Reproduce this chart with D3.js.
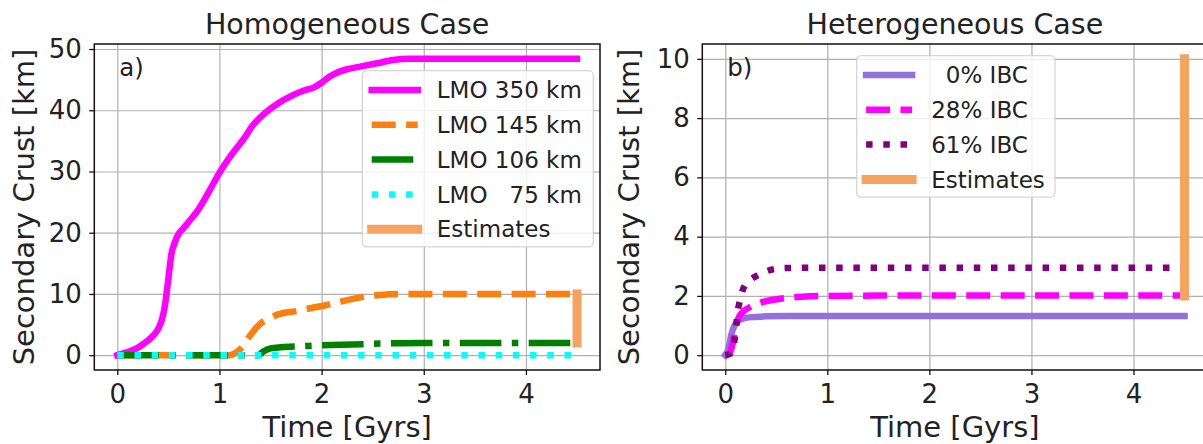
<!DOCTYPE html>
<html>
<head>
<meta charset="utf-8">
<script src="https://cdn.jsdelivr.net/npm/d3@7"></script>
<style>
body { margin: 0; background: #fff; }
svg { display: block; font-family: "DejaVu Sans", sans-serif; }
</style>
</head>
<body>
<script>
// ---- data ----
// a) homogeneous case
let lmo350T = [0, 0.1, 0.19, 0.27, 0.34, 0.4, 0.44, 0.47, 0.5, 0.53, 0.565, 0.6, 0.64, 0.7, 0.79, 0.9, 1.0, 1.13, 1.25, 1.32, 1.45, 1.58, 1.7, 1.84, 1.92, 2.0, 2.08, 2.16, 2.25, 2.4, 2.55, 2.7, 2.85, 3.0, 3.5, 4.0, 4.5];
let lmo350V = [0, 0.5, 1.1, 2.0, 3.0, 4.3, 6.0, 8.5, 12.5, 16.5, 18.5, 19.8, 20.6, 21.8, 23.7, 26.8, 29.8, 33.0, 35.6, 37.4, 39.6, 41.2, 42.3, 43.3, 43.7, 44.5, 45.5, 46.2, 46.7, 47.2, 47.7, 48.2, 48.4, 48.4, 48.4, 48.4, 48.4];
let lmo145T = [0, 1.1, 1.15, 1.21, 1.3, 1.39, 1.5, 1.58, 1.75, 1.9, 2.05, 2.2, 2.37, 2.55, 2.75, 3.0, 3.5, 4.0, 4.5];
let lmo145V = [0, 0, 0.3, 1.1, 3.2, 5.0, 6.1, 6.7, 7.2, 7.7, 8.2, 8.8, 9.4, 9.8, 10.0, 10.0, 10.0, 10.0, 10.0];
let lmo106T = [0, 1.38, 1.43, 1.5, 1.6, 1.8, 2.0, 2.3, 2.6, 3.0, 4.5];
let lmo106V = [0, 0, 0.6, 1.1, 1.3, 1.45, 1.6, 1.75, 1.9, 2.0, 2.0];
let lmo75T = [0, 1, 2, 3, 4, 4.5];
let lmo75V = [0, 0, 0, 0, 0, 0];
// b) heterogeneous case
let ibc0T = [0, 0.03, 0.06, 0.09, 0.12, 0.16, 0.2, 0.3, 0.4, 0.6, 1.0, 4.5];
let ibc0V = [0, 0.2, 0.7, 1.0, 1.15, 1.22, 1.26, 1.29, 1.31, 1.32, 1.32, 1.32];
let ibc28T = [0, 0.04, 0.07, 0.1, 0.13, 0.17, 0.22, 0.28, 0.37, 0.47, 0.6, 0.75, 1.0, 1.5, 4.5];
let ibc28V = [0, 0.05, 0.35, 0.9, 1.25, 1.45, 1.58, 1.69, 1.8, 1.87, 1.93, 1.97, 2.0, 2.01, 2.01];
let ibc61T = [0, 0.05, 0.08, 0.1, 0.12, 0.15, 0.19, 0.25, 0.32, 0.4, 0.49, 0.6, 0.82, 4.5];
let ibc61V = [0, 0.05, 0.3, 0.75, 1.4, 1.95, 2.35, 2.55, 2.7, 2.83, 2.91, 2.94, 2.95, 2.95];
// estimate range of crust thickness at present day
let estimateT = [4.5, 4.5];
let estimateV = [2, 10];

let xTicks = [0, 1, 2, 3, 4];
let yTicksA = [0, 10, 20, 30, 40, 50];
let yTicksB = [0, 2, 4, 6, 8, 10];

let dashed = "24 10.4", dashdot = "41.6 10.4 6.5 10.4", dotted = "6.5 10.7";

let svg = d3.select("body").append("svg")
    .attr("width", 1203)
    .attr("height", 444);

function zip(t, v) {
    return t.map((d, i) => [d, v[i]]);
}

function panel(p) {
    let w = p.right - p.left, h = p.bottom - p.top;
    let g = svg.append("g").attr("transform", `translate(${p.left},${p.top})`);

    let x = d3.scaleLinear().domain([-0.225, 4.725]).range([0, w]);
    let y = d3.scaleLinear().domain(p.yDomain).range([h, 0]);

    // grid
    g.append("g").attr("transform", `translate(0,${h})`)
        .call(d3.axisBottom(x).tickValues(xTicks).tickSize(-h).tickFormat(""))
        .call(a => a.select(".domain").remove())
        .selectAll("line").attr("stroke", "#b0b0b0").attr("stroke-width", 1.2);
    g.append("g")
        .call(d3.axisLeft(y).tickValues(p.yTicks).tickSize(-w).tickFormat(""))
        .call(a => a.select(".domain").remove())
        .selectAll("line").attr("stroke", "#b0b0b0").attr("stroke-width", 1.2);

    let clipId = "clip" + p.tag;
    g.append("clipPath").attr("id", clipId)
        .append("rect").attr("width", w).attr("height", h);

    let line = d3.line()
        .x(d => x(d[0]))
        .y(d => y(d[1]))
        .curve(d3.curveMonotoneX);

    let plot = g.append("g").attr("clip-path", `url(#${clipId})`);
    p.series.forEach(s => {
        plot.append("path")
            .datum(zip(s.t, s.v))
            .attr("d", line)
            .attr("fill", "none")
            .attr("stroke", s.color)
            .attr("stroke-width", s.width)
            .attr("stroke-dasharray", s.dash)
            .attr("stroke-linecap", s.dash ? "butt" : "square")
            .attr("stroke-linejoin", "round");
    });

    // frame
    g.append("rect")
        .attr("width", w).attr("height", h)
        .attr("fill", "none").attr("stroke", "#111").attr("stroke-width", 1.5);

    // axes with ticks and labels
    let xa = g.append("g").attr("transform", `translate(0,${h})`)
        .call(d3.axisBottom(x).tickValues(xTicks).tickFormat(d3.format("d")).tickSize(5).tickPadding(9.5));
    let ya = g.append("g")
        .call(d3.axisLeft(y).tickValues(p.yTicks).tickFormat(d3.format("d")).tickSize(5).tickPadding(7.5));
    [xa, ya].forEach(a => {
        a.select(".domain").remove();
        a.selectAll("line").attr("stroke", "#111").attr("stroke-width", 1.3);
        a.selectAll("text").attr("font-size", 26).attr("fill", "#222")
            .attr("font-family", "DejaVu Sans");
    });

    g.append("text")
        .attr("x", w / 2).attr("y", 34.3 - p.top)
        .attr("text-anchor", "middle")
        .attr("font-size", 28.5).attr("fill", "#222")
        .text(p.title);
    g.append("text")
        .attr("x", w / 2).attr("y", 437 - p.top)
        .attr("text-anchor", "middle")
        .attr("font-size", 29).attr("fill", "#222")
        .text("Time [Gyrs]");
    g.append("text")
        .attr("transform", `translate(${p.ylabelX - p.left},${h / 2}) rotate(-90)`)
        .attr("text-anchor", "middle")
        .attr("font-size", 29).attr("fill", "#222")
        .text("Secondary Crust [km]");
    g.append("text")
        .attr("x", 25).attr("y", 76 - p.top)
        .attr("font-size", 24.5).attr("fill", "#222")
        .text(p.tag);

    // legend
    let lg = svg.append("g").attr("transform", `translate(${p.legend.x},${p.legend.y})`);
    lg.append("rect")
        .attr("width", p.legend.w)
        .attr("height", 19.3 * 2 + 34.8 * (p.series.length - 1) - 1.6)
        .attr("rx", 4.6)
        .attr("fill", "white").attr("fill-opacity", 0.8)
        .attr("stroke", "#cccccc").attr("stroke-opacity", 0.8).attr("stroke-width", 1.3);
    p.series.forEach((s, i) => {
        let cy = 19.3 + i * 34.8;
        lg.append("line")
            .attr("x1", 9.4).attr("x2", 55.4)
            .attr("y1", cy).attr("y2", cy)
            .attr("stroke", s.color)
            .attr("stroke-width", s.width)
            .attr("stroke-dasharray", s.dash)
            .attr("stroke-linecap", s.dash ? "butt" : "square");
        lg.append("text")
            .attr("x", 74.5).attr("y", cy + 8.2)
            .attr("font-size", 23).attr("fill", "#222")
            .style("white-space", "pre")
            .text(s.label);
    });
}

panel({
    left: 94.3, right: 600, top: 44, bottom: 370,
    yDomain: [-2.42, 50.82], yTicks: yTicksA,
    title: "Homogeneous Case", tag: "a)", ylabelX: 34,
    legend: {x: 362.3, y: 70.7, w: 231},
    series: [
        {t: lmo350T, v: lmo350V, color: "#ff00ff", width: 6.5, dash: null, label: "LMO 350 km"},
        {t: lmo145T, v: lmo145V, color: "#ff7f0e", width: 6.5, dash: dashed, label: "LMO 145 km"},
        {t: lmo106T, v: lmo106V, color: "#008000", width: 6.5, dash: dashdot, label: "LMO 106 km"},
        {t: lmo75T, v: lmo75V, color: "#00ffff", width: 6.5, dash: dotted, label: "LMO   75 km"},
        {t: estimateT, v: estimateV, color: "#f4a460", width: 9, dash: null, label: "Estimates"}
    ]
});

panel({
    left: 702.3, right: 1207.5, top: 44, bottom: 370,
    yDomain: [-0.5, 10.5], yTicks: yTicksB,
    title: "Heterogeneous Case", tag: "b)", ylabelX: 639,
    legend: {x: 856.7, y: 55.7, w: 198.3},
    series: [
        {t: ibc0T, v: ibc0V, color: "#9370db", width: 6.5, dash: null, label: "  0% IBC"},
        {t: ibc28T, v: ibc28V, color: "#ff00ff", width: 6.5, dash: dashed, label: "28% IBC"},
        {t: ibc61T, v: ibc61V, color: "#800080", width: 6.5, dash: dotted, label: "61% IBC"},
        {t: estimateT, v: estimateV, color: "#f4a460", width: 9, dash: null, label: "Estimates"}
    ]
});
</script>
</body>
</html>
